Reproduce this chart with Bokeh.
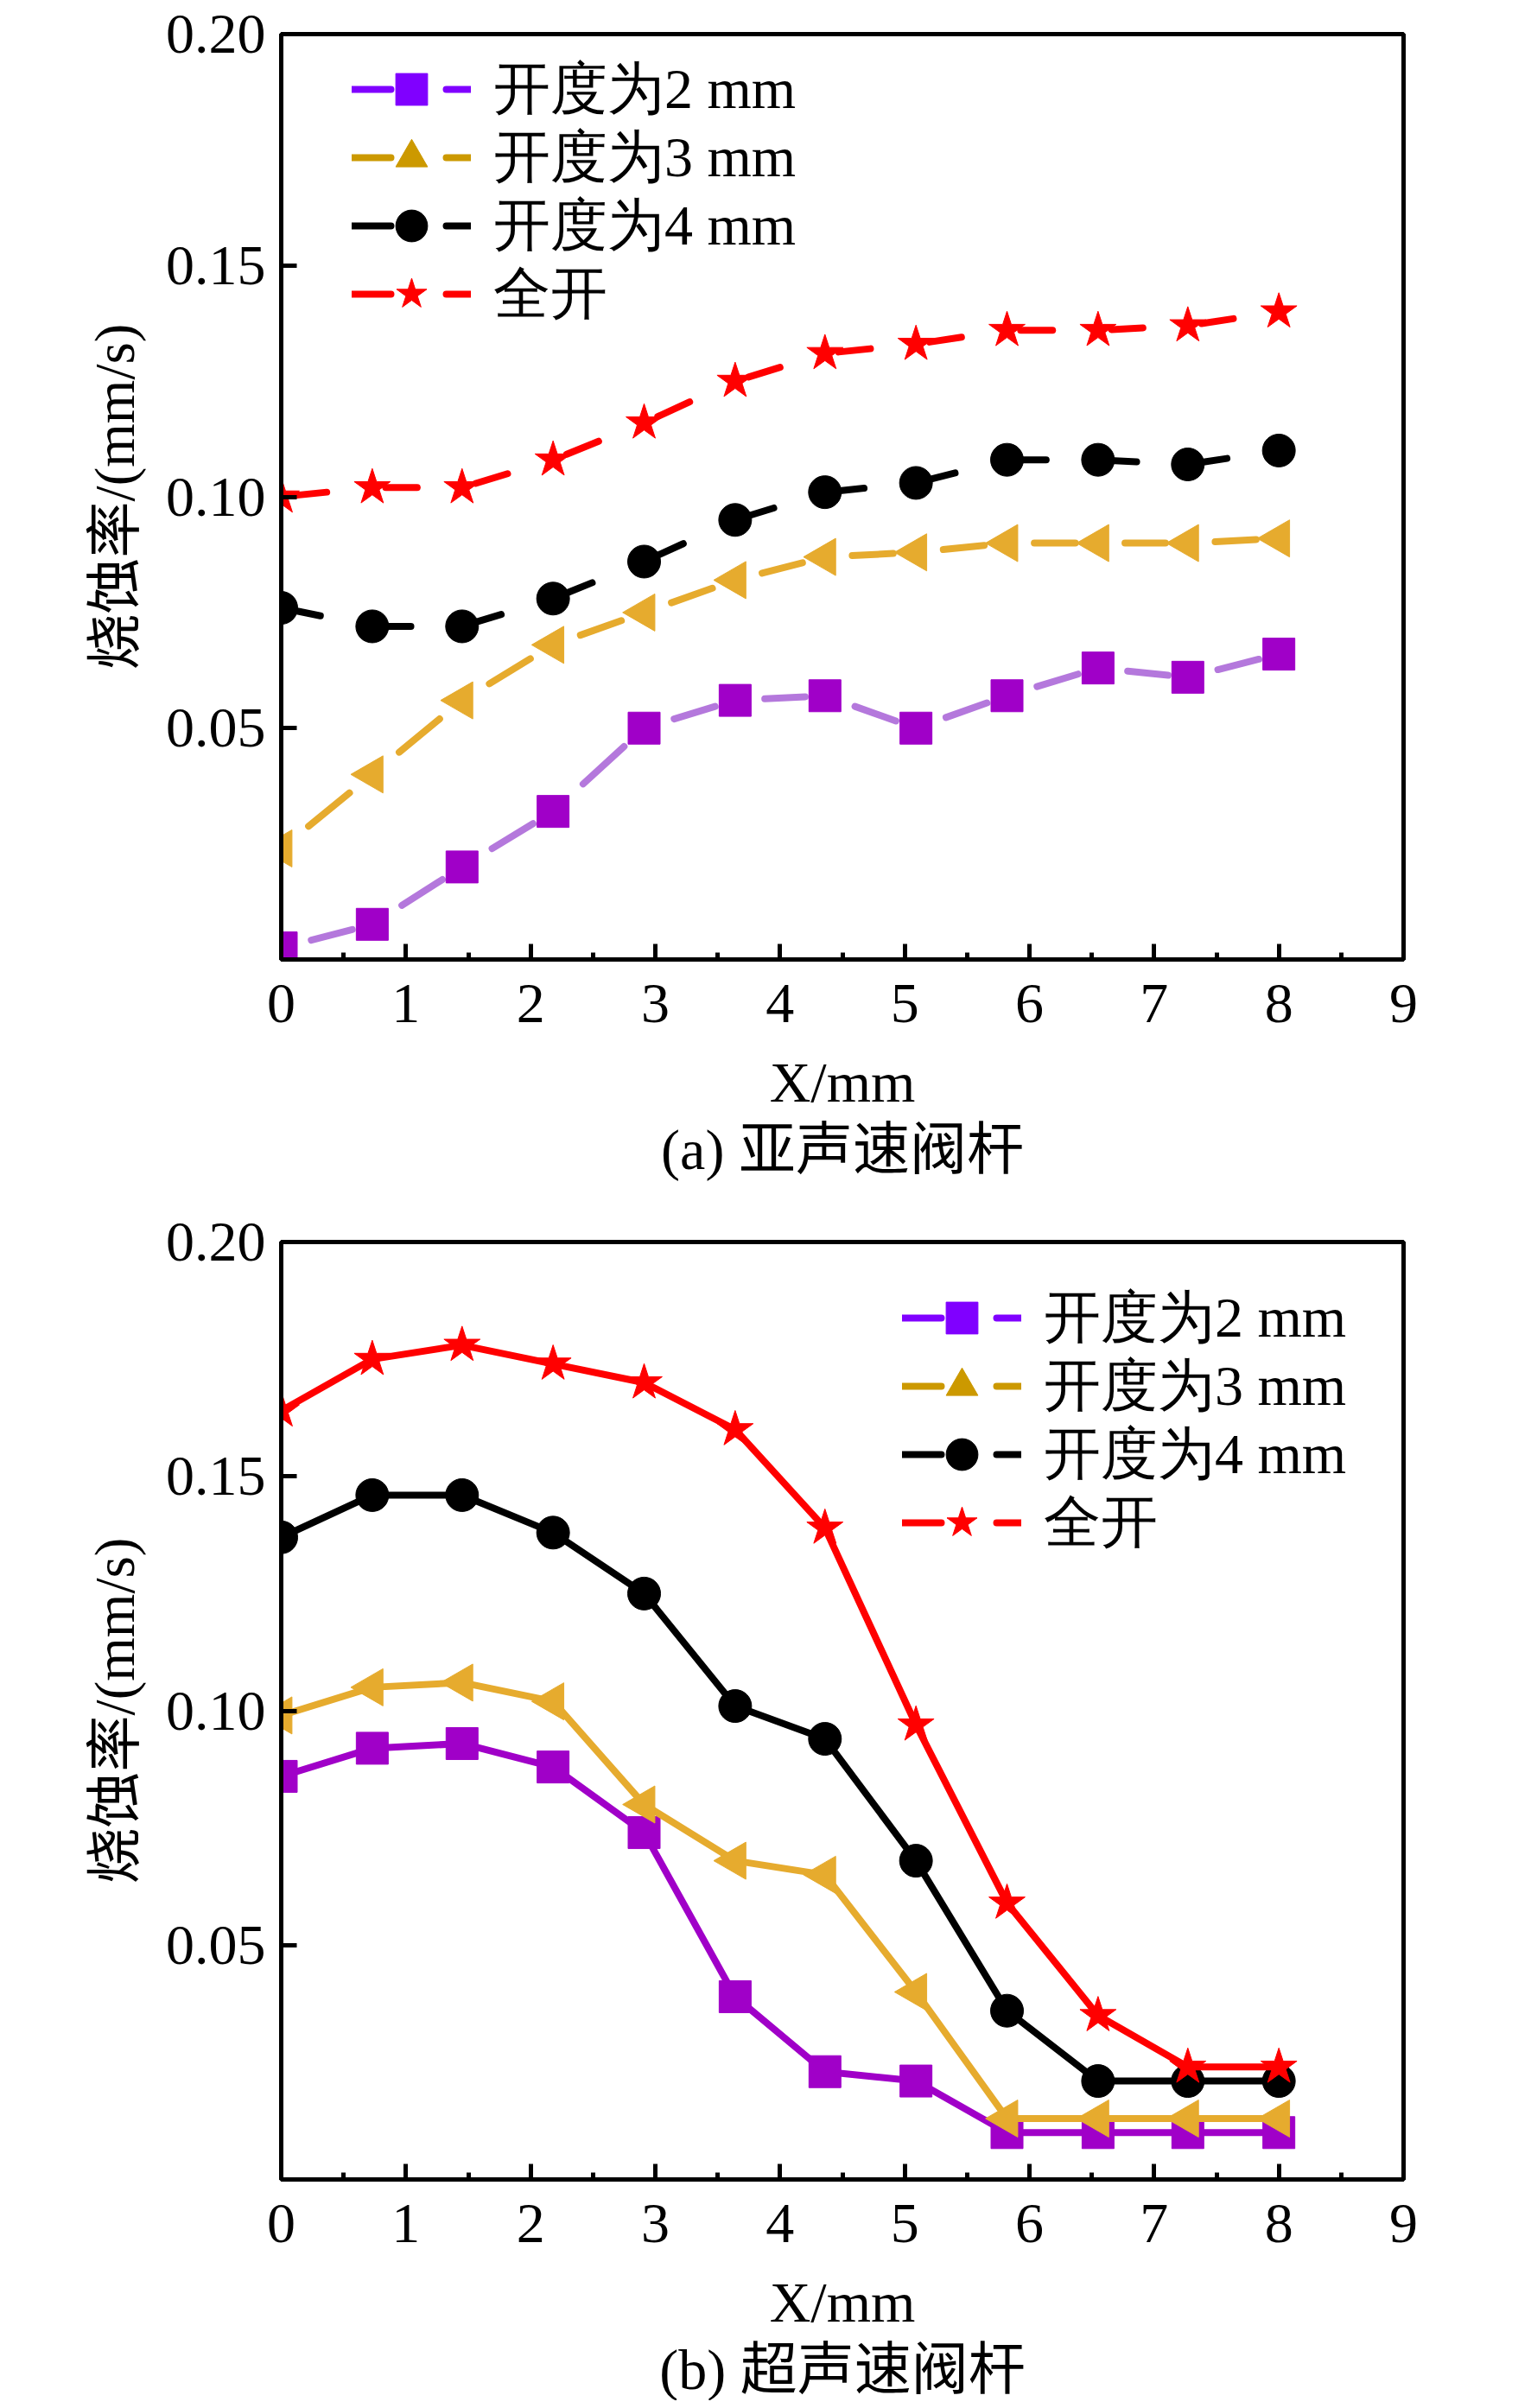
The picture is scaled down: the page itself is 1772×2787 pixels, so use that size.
import numpy as np
from bokeh.plotting import figure
from bokeh.models import (Range1d, SingleIntervalTicker, FixedTicker, Legend, LegendItem,
                          ColumnDataSource, PrintfTickFormatter, Title)
from bokeh.layouts import column
from bokeh.embed import file_html
from bokeh.resources import INLINE

# ---------------- data ----------------
x_pos = [0.0, 0.73, 1.45, 2.18, 2.91, 3.64, 4.36, 5.09, 5.82, 6.55, 7.27, 8.0]

a_2mm = [0.0025, 0.0076, 0.020, 0.032, 0.050, 0.056, 0.057, 0.050, 0.057, 0.063, 0.061, 0.066]
a_3mm = [0.024, 0.040, 0.056, 0.068, 0.075, 0.082, 0.087, 0.088, 0.090, 0.090, 0.090, 0.091]
a_4mm = [0.076, 0.072, 0.072, 0.078, 0.086, 0.095, 0.101, 0.103, 0.108, 0.108, 0.107, 0.110]
a_full = [0.100, 0.102, 0.102, 0.108, 0.116, 0.125, 0.131, 0.133, 0.136, 0.136, 0.137, 0.140]

b_2mm = [0.086, 0.092, 0.093, 0.088, 0.074, 0.039, 0.023, 0.021, 0.010, 0.010, 0.010, 0.010]
b_3mm = [0.099, 0.105, 0.106, 0.102, 0.080, 0.068, 0.065, 0.040, 0.013, 0.013, 0.013, 0.013]
b_4mm = [0.137, 0.146, 0.146, 0.138, 0.125, 0.101, 0.094, 0.068, 0.036, 0.021, 0.021, 0.021]
b_full = [0.164, 0.175, 0.178, 0.174, 0.170, 0.160, 0.139, 0.097, 0.059, 0.035, 0.024, 0.024]

series_names = ["开度为2 mm", "开度为3 mm", "开度为4 mm", "全开"]
y_ticks = [0.05, 0.10, 0.15, 0.20]
y_label = "烧蚀率/(mm/s)"
x_label = "X/mm"
captions = ["(a) 亚声速阀杆", "(b) 超声速阀杆"]

# ---------------- styles ----------------
SERIF = "Liberation Serif, Noto Sans CJK SC"
LATIN = "Liberation Serif"
marker_colors = ["#a000c8", "#e6ab2e", "#000000", "#ff0000"]
line_colors_a = ["#b478dc", "#e6ab2e", "#000000", "#ff0000"]
legend_colors = ["#8000ff", "#cc9900", "#000000", "#ff0000"]
markers = ["square", "triangle", "circle", "star"]
marker_sizes = [37, 43, 38, 44]
marker_angles = [0.0, np.pi / 2, 0.0, 0.0]
dash_frac = [(0.33, 0.78), (0.30, 0.75), (0.14, 0.43), (0.15, 0.50)]

FRAME_W = 1299
BORDER_L = 325
BORDER_R = 110
ROW_H = 92          # legend row box (glyph and label)
ROW_PITCH = 79


def make_panel(ys, dashed, leg_x, leg_first_center, border_top, frame_h, fig_h, caption):
    p = figure(frame_width=FRAME_W, frame_height=frame_h,
               min_border_left=BORDER_L, min_border_right=BORDER_R,
               min_border_top=border_top, min_border_bottom=fig_h - border_top - frame_h,
               x_range=Range1d(0, 9), y_range=Range1d(0, 0.2),
               output_backend="svg", toolbar_location=None)
    p.xgrid.grid_line_color = None
    p.ygrid.grid_line_color = None
    p.outline_line_color = "black"
    p.outline_line_width = 5
    p.outline_line_alpha = 1.0
    p.background_fill_color = "white"
    p.border_fill_color = "white"

    xa = p.xaxis[0]
    xa.ticker = SingleIntervalTicker(interval=1, num_minor_ticks=2)
    ya = p.yaxis[0]
    ya.ticker = FixedTicker(ticks=y_ticks)
    ya.formatter = PrintfTickFormatter(format="%.2f")
    for ax in (xa, ya):
        ax.axis_line_width = 5
        ax.major_tick_line_width = 5
        ax.minor_tick_line_width = 5
        ax.major_tick_in = 18
        ax.major_tick_out = 0
        ax.minor_tick_in = 8
        ax.minor_tick_out = 0
        ax.major_label_text_font = LATIN
        ax.major_label_text_font_size = "66px"
        ax.major_label_text_color = "black"
        ax.axis_label_text_font_style = "normal"
        ax.axis_label_text_color = "black"
    ya.minor_tick_line_color = None
    xa.major_label_standoff = 29
    ya.major_label_standoff = 18
    ya.axis_label = y_label
    ya.axis_label_text_font = SERIF
    ya.axis_label_text_font_size = "65px"
    ya.axis_label_standoff = 20
    xa.axis_label = x_label
    xa.axis_label_text_font = LATIN
    xa.axis_label_text_font_size = "66px"
    xa.axis_label_standoff = 30

    p.add_layout(Title(text=caption, align="center", text_font=SERIF,
                       text_font_size="66px", text_font_style="normal",
                       text_color="black", standoff=0), "below")

    for i, yv in enumerate(ys):
        xs = np.array(x_pos)
        yy = np.array(yv)
        if dashed:
            f0, f1 = dash_frac[i]
            dx = np.diff(xs)
            dy = np.diff(yy)
            p.segment(x0=xs[:-1] + f0 * dx, y0=yy[:-1] + f0 * dy,
                      x1=xs[:-1] + f1 * dx, y1=yy[:-1] + f1 * dy,
                      line_color=line_colors_a[i], line_width=8, line_cap="round")
        else:
            p.line(xs, yy, line_color=marker_colors[i], line_width=8, line_join="round")
        p.scatter(xs, yy, marker=markers[i], size=marker_sizes[i], angle=marker_angles[i],
                  fill_color=marker_colors[i], line_color=marker_colors[i], line_width=1)

        # legend-only renderers (no visible data)
        src = ColumnDataSource(dict(x=[np.nan], y=[np.nan]))
        lr = p.line("x", "y", source=src, line_color=legend_colors[i], line_width=8,
                    line_cap="round", line_dash="45 64 29 200")
        sr = p.scatter("x", "y", source=src, marker=markers[i], angle=marker_angles[i],
                       fill_color=legend_colors[i], line_color=legend_colors[i])
        item = LegendItem(label=series_names[i], renderers=[lr, sr])
        center_from_top = leg_first_center + ROW_PITCH * i
        loc_y = frame_h - (center_from_top + ROW_H / 2)
        leg = Legend(items=[item], location=(leg_x, loc_y),
                     glyph_width=138, glyph_height=ROW_H, label_height=ROW_H,
                     label_standoff=26, spacing=0, padding=0, margin=0,
                     border_line_color=None, background_fill_alpha=0,
                     label_text_font=LATIN, label_text_font_size="66px",
                     label_text_color="black")
        p.add_layout(leg)
    return p


# top panel: frame starts a little lower so the top tick label "0.20" stays inside the canvas
p1 = make_panel([a_2mm, a_3mm, a_4mm, a_full], True, 82, 64, 39, 1071, 1392, captions[0])
p2 = make_panel([b_2mm, b_3mm, b_4mm, b_full], False, 719, 88, 45, 1085, 1379, captions[1])

layout = column(p1, p2, spacing=0)
open("out.html", "w").write(file_html(layout, INLINE))
